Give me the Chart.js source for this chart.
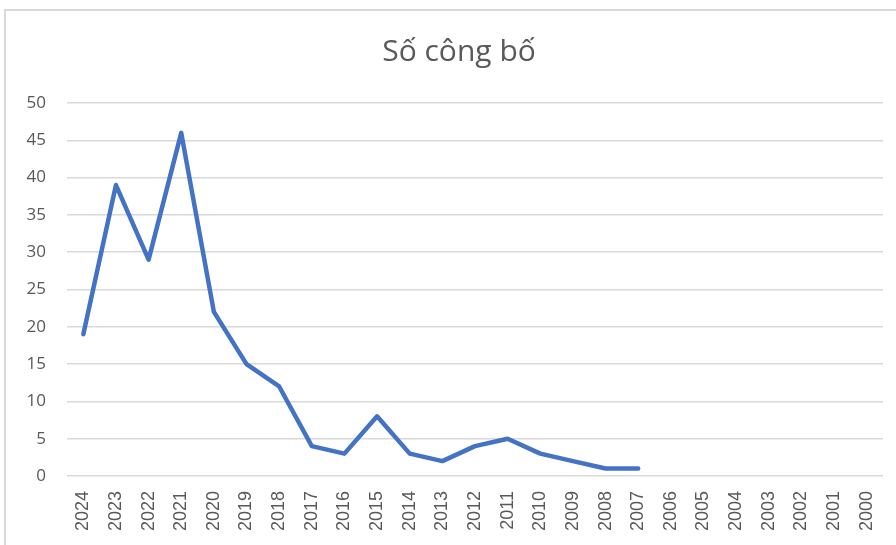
<!DOCTYPE html>
<html>
<head>
<meta charset="utf-8">
<script src="https://cdn.jsdelivr.net/npm/chart.js@4"></script>
<style>
html,body{margin:0;padding:0;background:#fff;}
#wrap{width:896px;height:545px;position:relative;}
</style>
</head>
<body>
<div id="wrap"><canvas id="c" width="896" height="545"></canvas></div>
<script>
const chartTitle = "Số công bố";
const years = ["2024","2023","2022","2021","2020","2019","2018","2017","2016","2015","2014","2013","2012","2011","2010","2009","2008","2007","2006","2005","2004","2003","2002","2001","2000"];
const counts = [19,39,29,46,22,15,12,4,3,8,3,2,4,5,3,2,1,1,null,null,null,null,null,null,null];
const yTicks = [0,5,10,15,20,25,30,35,40,45,50];

const framePlugin = {
  id: 'frame',
  beforeDraw(chart) {
    const ctx = chart.ctx;
    ctx.save();
    ctx.fillStyle = '#fff';
    ctx.fillRect(0, 0, chart.width, chart.height);
    ctx.strokeStyle = '#d9d9d9';
    ctx.lineWidth = 2;
    ctx.strokeRect(5, 10, chart.width + 20, chart.height + 20);
    ctx.restore();
  },
  afterDraw(chart) {
    const ctx = chart.ctx;
    ctx.save();
    ctx.fillStyle = '#595959';
    ctx.font = '30px "Open Sans"';
    ctx.textAlign = 'center';
    ctx.textBaseline = 'alphabetic';
    ctx.fillText(chartTitle, 459, 61);
    ctx.restore();
  }
};

new Chart(document.getElementById('c'), {
  type: 'line',
  data: {
    labels: years,
    datasets: [{
      data: counts,
      borderColor: '#4472C4',
      borderWidth: 4.5,
      pointRadius: 0,
      pointHoverRadius: 0,
      fill: false,
      tension: 0,
      borderCapStyle: 'round',
      borderJoinStyle: 'round',
      spanGaps: false
    }]
  },
  options: {
    responsive: false,
    animation: false,
    layout: { padding: { top: 103, right: 13, left: 0, bottom: 0 } },
    plugins: { legend: { display: false }, title: { display: false }, tooltip: { enabled: false } },
    scales: {
      x: {
        offset: true,
        grid: { display: false, drawTicks: false },
        border: { display: false },
        ticks: {
          autoSkip: false,
          minRotation: 90,
          maxRotation: 90,
          padding: 15,
          color: '#595959',
          font: { family: '"Liberation Sans Narrow", "Liberation Sans"', size: 18 }
        },
        afterFit(scale) { scale.height = 69; scale.paddingLeft = 0; scale.paddingRight = 0; }
      },
      y: {
        min: 0,
        max: 50,
        afterBuildTicks(scale) { scale.ticks = yTicks.map(v => ({ value: v })); },
        grid: { color: '#d9d9d9', lineWidth: 1.5, drawTicks: false },
        border: { display: false },
        ticks: {
          padding: 21,
          color: '#595959',
          font: { family: '"Open Sans"', size: 17 }
        },
        afterFit(scale) { scale.width = 67; scale.paddingTop = 0; scale.paddingBottom = 0; }
      }
    }
  },
  plugins: [framePlugin]
});
</script>
</body>
</html>
